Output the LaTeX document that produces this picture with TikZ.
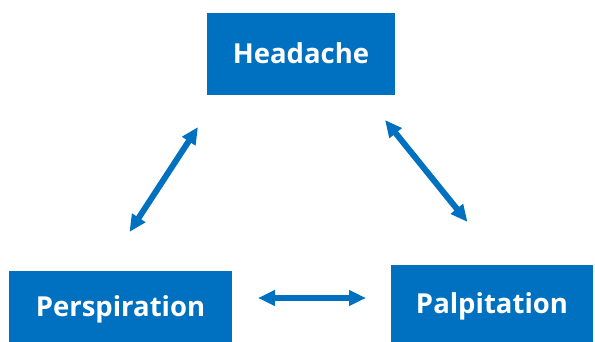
\documentclass[tikz,border=0pt]{standalone}
\usepackage{fontspec}
\setmainfont{Open Sans}
\usetikzlibrary{arrows.meta}
\definecolor{boxblue}{RGB}{0,112,192}

\begin{document}
\begin{tikzpicture}[x=1pt, y=-1pt,
	box/.style={rectangle, fill=boxblue, text=white, inner sep=0pt,
		text height=20pt, text depth=0pt,
		font=\fontsize{27.5}{30}\selectfont\bfseries},
	arr/.style={draw=boxblue, line width=6pt,
		{Triangle[length=17pt,width=15pt]}-{Triangle[length=17pt,width=15pt]}}]
	\useasboundingbox (0,0) rectangle (595,342);

	\node[box, minimum width=188pt, minimum height=82pt] (head) at (301,54) {Headache};
	\node[box, minimum width=223pt, minimum height=71pt] (persp) at (120.5,306.5) {Perspiration};
	\node[box, minimum width=202pt, minimum height=77pt] (palp) at (492,303.5) {Palpitation};

	\coordinate (hl) at (198,127);
	\coordinate (pl) at (129.5,232);
	\coordinate (hr) at (385,120);
	\coordinate (pr) at (467.5,222);
	\coordinate (bl) at (258,298);
	\coordinate (br) at (366,298);

	\draw[arr] (hl) -- (pl);
	\draw[arr] (hr) -- (pr);
	\draw[arr] (bl) -- (br);
\end{tikzpicture}
\end{document}
